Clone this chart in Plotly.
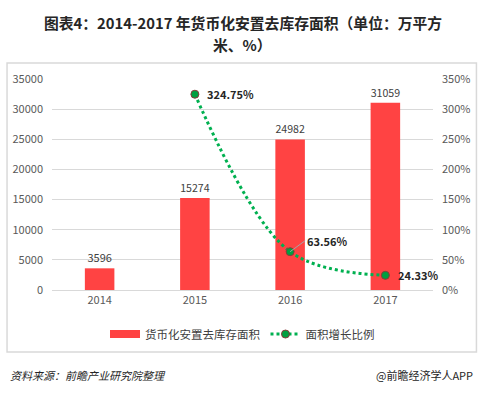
import plotly.graph_objects as go

years = ["2014", "2015", "2016", "2017"]
area = [3596, 15274, 24982, 31059]
growth = [None, 324.75, 63.56, 24.33]
growth_labels = ["", "324.75%", "63.56%", "24.33%"]

FONT = "Noto Sans CJK SC"
fig = go.Figure()
fig.add_trace(go.Bar(
    x=years, y=area, name="货币化安置去库存面积", showlegend=False,
    marker=dict(color="#FF4343", line=dict(width=0)), width=0.31,
    text=[str(v) for v in area], textposition="outside",
    textfont=dict(size=11, color="#404040"), cliponaxis=False,
))
# legend proxy for the bars (wide red swatch)
fig.add_trace(go.Scatter(
    x=[years[0]], y=[None], name="货币化安置去库存面积", mode="lines",
    line=dict(color="#FF4343", width=8),
))
fig.add_trace(go.Scatter(
    x=years, y=growth, name="面积增长比例", yaxis="y2",
    mode="lines+markers", connectgaps=False,
    line=dict(color="#00B050", width=3, dash="dot", shape="spline"),
    marker=dict(color="#00A040", size=8, line=dict(color="#8B3A3A", width=1)),
))

# labels for growth points (category index positions)
fig.add_annotation(x=1, y=growth[1], xref="x", yref="y2", text="<b>" + growth_labels[1] + "</b>",
                   showarrow=False, xanchor="left", xshift=10, font=dict(size=11, color="#262626"))
fig.add_annotation(x=2, y=growth[2], xref="x", yref="y2", text="<b>" + growth_labels[2] + "</b>",
                   showarrow=True, arrowhead=0, arrowcolor="#A6A6A6", arrowwidth=1,
                   ax=15, ay=-11, xanchor="left", font=dict(size=11, color="#262626"))
fig.add_annotation(x=3, y=growth[3], xref="x", yref="y2", text="<b>" + growth_labels[3] + "</b>",
                   showarrow=False, xanchor="left", xshift=11, font=dict(size=11, color="#262626"))

# title (two lines)
fig.add_annotation(xref="paper", yref="paper", x=0.5, y=1, yshift=57,
                   text="<b>图表4：2014-2017 年货币化安置去库存面积（单位：万平方</b>",
                   showarrow=False, xanchor="center", yanchor="middle",
                   font=dict(size=14.8, color="#262626", family=FONT))
fig.add_annotation(xref="paper", yref="paper", x=0.5, y=1, yshift=35,
                   text="<b>米、%）</b>",
                   showarrow=False, xanchor="center", yanchor="middle",
                   font=dict(size=14.8, color="#262626", family=FONT))

# source texts
fig.add_annotation(xref="paper", yref="paper", x=0, xshift=-44, y=0, yshift=-85,
                   text="<i>资料来源：前瞻产业研究院整理</i>", showarrow=False,
                   xanchor="left", yanchor="middle", font=dict(size=11, color="#262626"))
fig.add_annotation(xref="paper", yref="paper", x=1, xshift=42, y=0, yshift=-85,
                   text="@前瞻经济学人APP", showarrow=False,
                   xanchor="right", yanchor="middle", font=dict(size=11, color="#262626"))

# frame lines
fig.add_shape(type="rect", xref="paper", yref="paper", x0=-0.118, x1=1.114, y0=-0.294, y1=1.076,
              line=dict(color="#D9D9D9", width=1.5))

fig.update_layout(
    width=482, height=393,
    margin=dict(l=48, r=46, t=79, b=103),
    paper_bgcolor="white", plot_bgcolor="white",
    font=dict(family=FONT, size=11, color="#595959"),
    bargap=0.69,
    showlegend=True,
    legend=dict(orientation="h", x=0.5, xanchor="center", y=-0.14, yanchor="top",
                font=dict(size=11.5, color="#404040")),
    xaxis=dict(type="category", categoryorder="array", categoryarray=years,
               range=[-0.5, len(years) - 0.5], showgrid=False, showline=True,
               linecolor="#D9D9D9", ticks="", tickfont=dict(size=11, color="#595959")),
    yaxis=dict(range=[0, 35000], dtick=5000, tickformat="d", gridcolor="#D9D9D9", zeroline=False,
               tickfont=dict(size=11, color="#595959"), ticklabelstandoff=8),
    yaxis2=dict(range=[0, 350], dtick=50, overlaying="y", side="right", showgrid=False,
                ticksuffix="%", zeroline=False, tickfont=dict(size=11, color="#595959"),
                ticklabelstandoff=8),
)
fig.write_html("out.html", config={"displayModeBar": False},
               post_script="document.body.style.margin='0';")
